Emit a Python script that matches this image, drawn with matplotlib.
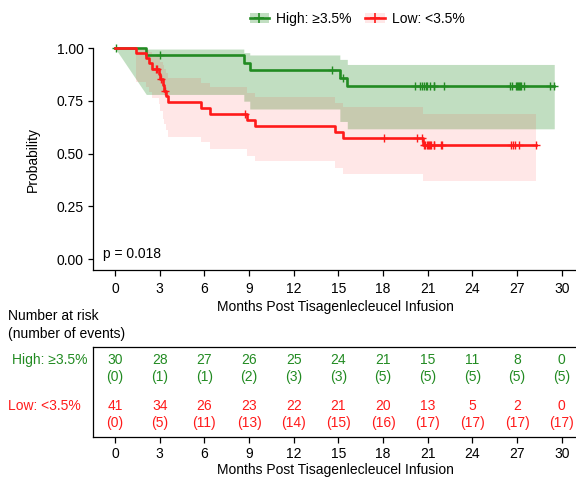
import numpy as np
import matplotlib
matplotlib.use("Agg")
import matplotlib.pyplot as plt
from matplotlib.lines import Line2D
from matplotlib.patches import Patch

plt.rcParams['font.family'] = ['Liberation Sans', 'DejaVu Sans']
plt.rcParams['font.size'] = 10

GREEN = '#228b22'
RED = '#ff1a1a'

# High group (>=3.5%), n = 30
hi_event_t = [2.1, 8.65, 9.05, 15.1, 15.6]
hi_surv = [0.9655, 0.9298, 0.8940, 0.8568, 0.8178]
hi_ci_lo = [0.780, 0.748, 0.711, 0.652, 0.617]
hi_ci_hi = [0.995, 0.978, 0.967, 0.946, 0.922]
hi_censor_t = [0.05, 3.05, 14.6, 15.3, 20.15, 20.45, 20.6, 20.75, 20.9, 20.95,
               21.15, 21.4, 21.45, 22.1, 26.5, 26.65, 26.9, 27.0, 27.05, 27.1,
               27.2, 27.3, 27.47, 29.2, 29.5]
hi_end = 29.5

# Low group (<3.5%), n = 41
lo_event_t = [1.4, 2.1, 2.3, 2.5, 2.95, 3.05, 3.2, 3.3, 3.45, 3.55, 5.8, 6.4,
              8.85, 9.4, 14.8, 15.3, 20.7]
lo_surv = [0.9756, 0.9512, 0.9268, 0.9024, 0.8767, 0.8509, 0.8243, 0.7977,
           0.7702, 0.7427, 0.7152, 0.6877, 0.6590, 0.6304, 0.6017, 0.5731, 0.5394]
lo_ci_lo = [0.84, 0.815, 0.79, 0.765, 0.735, 0.70, 0.665, 0.64, 0.61, 0.58,
            0.554, 0.522, 0.49, 0.464, 0.432, 0.403, 0.368]
lo_ci_hi = [0.995, 0.99, 0.98, 0.968, 0.952, 0.935, 0.918, 0.90, 0.88, 0.859,
            0.836, 0.816, 0.787, 0.767, 0.74, 0.719, 0.687]
lo_censor_t = [2.75, 2.85, 3.1, 3.38, 8.7, 18.05, 20.25, 20.6, 20.75, 20.85, 20.95,
               21.05, 21.1, 21.15, 21.2, 21.4, 21.45, 21.9, 21.95,
               26.6, 26.7, 26.85, 27.1, 28.3]
lo_end = 28.3

# number at risk / cumulative events
risk_t = [0, 3, 6, 9, 12, 15, 18, 21, 24, 27, 30]
hi_at_risk = [30, 28, 27, 26, 25, 24, 21, 15, 11, 8, 0]
hi_events = [0, 1, 1, 2, 3, 3, 5, 5, 5, 5, 5]
lo_at_risk = [41, 34, 26, 23, 22, 21, 20, 13, 5, 2, 0]
lo_events = [0, 5, 11, 13, 14, 15, 16, 17, 17, 17, 17]

hi_label = 'High: \u22653.5%'
lo_label = 'Low: <3.5%'
xlabel = 'Months Post Tisagenlecleucel Infusion'
p_text = 'p = 0.018'


def band(t, lo, hi, t_end, ramp):
    # step shaped confidence band; ramp=True joins t=0 straight to the first knot
    xs, ylo, yhi = [0.0], [1.0], [1.0]
    for i in range(len(t)):
        if i > 0 or not ramp:
            xs.append(t[i]); ylo.append(ylo[-1]); yhi.append(yhi[-1])
        xs.append(t[i]); ylo.append(lo[i]); yhi.append(hi[i])
    xs.append(t_end); ylo.append(ylo[-1]); yhi.append(yhi[-1])
    return xs, ylo, yhi


def surv_at(ct, t, s):
    idx = np.searchsorted(t, ct, side='right')
    s = np.concatenate([[1.0], s])
    return s[idx]


def km(ax, t, s, lo, hi, ct, t_end, color, alpha, ramp):
    xs, ylo, yhi = band(t, lo, hi, t_end, ramp)
    ax.fill_between(xs, ylo, yhi, color=color, alpha=alpha, lw=0)
    ax.step([0] + t + [t_end], [1.0] + s + [s[-1]], where='post',
            color=color, lw=1.9, clip_on=False)
    ax.plot(ct, surv_at(ct, t, s), '+', color=color, ms=6, mew=1.0,
            clip_on=False)


fig = plt.figure(figsize=(5.76, 4.78), dpi=100)
W, H = 576.0, 478.0
x0, x1 = 93.0, 578.0
ax = fig.add_axes([x0 / W, 1 - 270 / H, (x1 - x0) / W, (270 - 48) / H])
tab = fig.add_axes([x0 / W, 1 - 436.7 / H, (x1 - x0) / W, 90 / H])

ppm = 14.89
xlim = ((x0 - 115) / ppm, (x1 - 115) / ppm)

km(ax, hi_event_t, hi_surv, hi_ci_lo, hi_ci_hi, hi_censor_t, hi_end, GREEN, 0.28, True)
km(ax, lo_event_t, lo_surv, lo_ci_lo, lo_ci_hi, lo_censor_t, lo_end, RED, 0.1, False)

ax.set_xlim(xlim)
ax.set_ylim(-0.052, 1.0)
ax.set_xticks(risk_t)
ax.set_yticks([0, 0.25, 0.5, 0.75, 1.0])
ax.set_yticklabels(['0.00', '0.25', '0.50', '0.75', '1.00'])
ax.spines['top'].set_visible(False)
ax.spines['right'].set_visible(False)
for sp in ax.spines.values():
    sp.set_linewidth(0.9)
ax.tick_params(axis='x', length=4.5, width=0.9, pad=4)
ax.tick_params(axis='y', length=3.5, width=0.9, pad=3)
ax.set_xlabel(xlabel, labelpad=3)
ax.set_ylabel('Probability', labelpad=12)
ax.text(103 / W, 1 - 254 / H, p_text, transform=fig.transFigure,
        ha='left', va='center')

# risk table
tab.set_xlim(xlim)
tab.set_ylim(0, 1)
tab.set_xticks(risk_t)
tab.set_yticks([])
for sp in tab.spines.values():
    sp.set_linewidth(0.9)
tab.tick_params(axis='x', length=4.5, width=0.9, pad=3)
tab.set_xlabel(xlabel, labelpad=1)

for i, t in enumerate(risk_t):
    tab.text(t, 0.852, str(hi_at_risk[i]), ha='center', va='center', color=GREEN)
    tab.text(t, 0.663, '(%d)' % hi_events[i], ha='center', va='center', color=GREEN)
    tab.text(t, 0.341, str(lo_at_risk[i]), ha='center', va='center', color=RED)
    tab.text(t, 0.152, '(%d)' % lo_events[i], ha='center', va='center', color=RED)

fig.text(11.7 / W, 1 - 360 / H, hi_label, ha='left', va='center', color=GREEN)
fig.text(8.3 / W, 1 - 406 / H, lo_label, ha='left', va='center', color=RED)
fig.text(8 / W, 1 - 325 / H, 'Number at risk\n(number of events)',
         ha='left', va='center', linespacing=1.3)

handles = [
    (Patch(facecolor=GREEN, alpha=0.28, lw=0),
     Line2D([], [], color=GREEN, lw=1.9, marker='+', ms=7, mew=1.2)),
    (Patch(facecolor=RED, alpha=0.1, lw=0),
     Line2D([], [], color=RED, lw=1.9, marker='+', ms=7, mew=1.2)),
]
fig.legend(handles, [hi_label, lo_label], loc='center',
           bbox_to_anchor=(357 / W, 1 - 19 / H), ncol=2, frameon=False,
           handlelength=1.4, handletextpad=0.5, columnspacing=1.0)

fig.savefig('out.png', dpi=100)
